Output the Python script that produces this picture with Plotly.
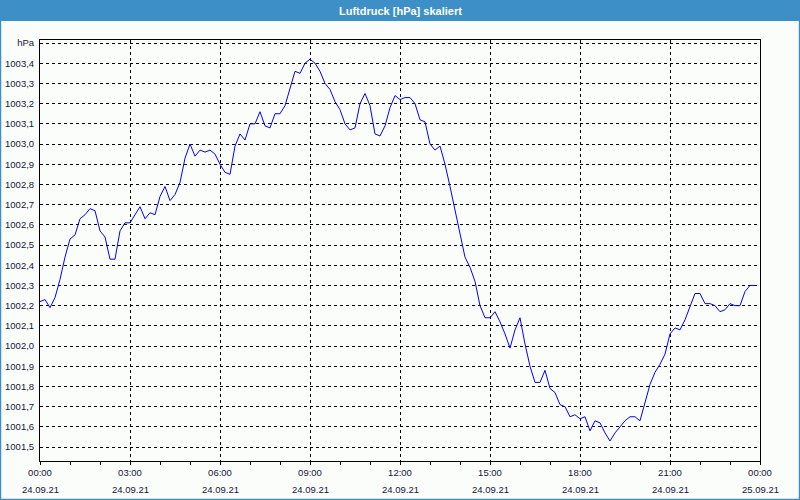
import plotly.graph_objects as go
import pandas as pd

# ---- data ----
start_time = "2021-09-24 00:00"
interval_minutes = 10
pressure_hpa = [
    1002.22, 1002.23, 1002.19, 1002.24, 1002.33, 1002.44, 1002.53, 1002.55, 1002.63, 1002.65,
    1002.68, 1002.67, 1002.57, 1002.54, 1002.43, 1002.43, 1002.57, 1002.61, 1002.61, 1002.65,
    1002.69, 1002.63, 1002.66, 1002.65, 1002.74, 1002.79, 1002.72, 1002.75, 1002.81, 1002.93,
    1003.00, 1002.94, 1002.97, 1002.96, 1002.97, 1002.95, 1002.90, 1002.86, 1002.85, 1002.99,
    1003.05, 1003.02, 1003.10, 1003.10, 1003.16, 1003.09, 1003.08, 1003.15, 1003.15, 1003.19,
    1003.28, 1003.36, 1003.35, 1003.40, 1003.42, 1003.40, 1003.36, 1003.30, 1003.27, 1003.21,
    1003.17, 1003.10, 1003.07, 1003.08, 1003.20, 1003.25, 1003.19, 1003.05, 1003.04, 1003.09,
    1003.18, 1003.24, 1003.22, 1003.23, 1003.23, 1003.20, 1003.12, 1003.11, 1003.00, 1002.97,
    1002.99, 1002.90, 1002.79, 1002.67, 1002.56, 1002.44, 1002.39, 1002.32, 1002.20, 1002.14,
    1002.14, 1002.17, 1002.12, 1002.06, 1001.99, 1002.08, 1002.14, 1002.01, 1001.90, 1001.82,
    1001.82, 1001.88, 1001.79, 1001.77, 1001.71, 1001.70, 1001.65, 1001.66, 1001.64, 1001.65,
    1001.58, 1001.63, 1001.62, 1001.57, 1001.53, 1001.57, 1001.60, 1001.63, 1001.65, 1001.65,
    1001.63, 1001.72, 1001.81, 1001.87, 1001.91, 1001.96, 1002.06, 1002.09, 1002.08, 1002.13,
    1002.20, 1002.26, 1002.26, 1002.21, 1002.21, 1002.20, 1002.17, 1002.18, 1002.21, 1002.20,
    1002.20, 1002.27, 1002.30, 1002.30,
]
x_tick_times = ["2021-09-24 00:00", "2021-09-24 03:00", "2021-09-24 06:00", "2021-09-24 09:00",
                "2021-09-24 12:00", "2021-09-24 15:00", "2021-09-24 18:00", "2021-09-24 21:00",
                "2021-09-25 00:00"]
x_tick_time_labels = ["00:00", "03:00", "06:00", "09:00", "12:00", "15:00", "18:00", "21:00", "00:00"]
x_tick_date_labels = ["24.09.21"] * 8 + ["25.09.21"]
y_tick_values = [1001.5, 1001.6, 1001.7, 1001.8, 1001.9, 1002.0, 1002.1, 1002.2, 1002.3, 1002.4,
                 1002.5, 1002.6, 1002.7, 1002.8, 1002.9, 1003.0, 1003.1, 1003.2, 1003.3, 1003.4, 1003.5]
y_tick_labels = ["1001,5", "1001,6", "1001,7", "1001,8", "1001,9", "1002,0", "1002,1", "1002,2",
                 "1002,3", "1002,4", "1002,5", "1002,6", "1002,7", "1002,8", "1002,9", "1003,0",
                 "1003,1", "1003,2", "1003,3", "1003,4", "hPa"]
title_text = "Luftdruck [hPa] skaliert"

times = pd.date_range(start_time, periods=len(pressure_hpa), freq=f"{interval_minutes}min")

# ---- layout geometry ----
W, H = 800, 500
ML, MR, MT, MB = 40, 40, 40, 39
PW, PH = W - ML - MR, H - MT - MB

def px_x(px):
    return (px - ML) / PW

def px_y(py):
    return (H - MB - py) / PH

FONT = "Liberation Sans"
FS = 9.5
TXT = "#14143a"
BAR = "#3d8fc7"
BG = "#fbfdfb"

fig = go.Figure()
fig.add_trace(go.Scatter(x=times, y=pressure_hpa, mode="lines",
                         line=dict(color="#0000ff", width=1), hoverinfo="skip",
                         showlegend=False))

fig.update_layout(
    width=W, height=H,
    margin=dict(l=ML, r=MR, t=MT, b=MB, pad=0, autoexpand=False),
    paper_bgcolor=BG, plot_bgcolor=BG,
    font=dict(family=FONT, size=FS, color=TXT),
    showlegend=False,
    xaxis=dict(
        type="date", automargin=False,
        range=[x_tick_times[0], x_tick_times[-1]],
        tickmode="array", tickvals=x_tick_times, ticktext=x_tick_time_labels,
        ticks="outside", ticklen=3, tickwidth=1, tickcolor="black",
        minor=dict(dtick=3600000, ticks="outside", ticklen=3, tickwidth=1,
                   tickcolor="black", showgrid=False),
        showgrid=True, gridcolor="black", gridwidth=1, griddash="3px,3px",
        showline=True, linecolor="black", linewidth=1, mirror=True,
        zeroline=False, tickfont=dict(family=FONT, size=FS, color=TXT),
        fixedrange=True,
    ),
    yaxis=dict(
        automargin=False,
        range=[1001.431, 1003.515],
        tickmode="array", tickvals=y_tick_values, ticktext=y_tick_labels,
        ticks="", ticklabelstandoff=3,
        showgrid=True, gridcolor="black", gridwidth=1, griddash="3px,3px",
        showline=True, linecolor="black", linewidth=1, mirror=True,
        zeroline=False, tickfont=dict(family=FONT, size=FS, color=TXT),
        fixedrange=True,
    ),
    shapes=[
        dict(type="rect", xref="paper", yref="paper",
             x0=px_x(0), x1=px_x(W), y0=px_y(21), y1=px_y(0),
             fillcolor=BAR, line=dict(width=0), layer="above"),
        dict(type="rect", xref="paper", yref="paper",
             x0=px_x(0.5), x1=px_x(W - 0.5), y0=px_y(H - 0.5), y1=px_y(0.5),
             fillcolor="rgba(0,0,0,0)", line=dict(color=BAR, width=1.5), layer="above"),
    ],
)

fig.add_annotation(text="<b>" + title_text + "</b>", xref="paper", yref="paper", x=0.5,
                   y=px_y(10.5), showarrow=False, xanchor="center", yanchor="middle",
                   font=dict(family=FONT, size=11, color="white"))

for t, d in zip(x_tick_times, x_tick_date_labels):
    fig.add_annotation(text=d, xref="x", yref="paper", x=t, y=px_y(489.5),
                       showarrow=False, xanchor="center", yanchor="middle",
                       font=dict(family=FONT, size=FS, color=TXT))

fig.write_html("out.html")
